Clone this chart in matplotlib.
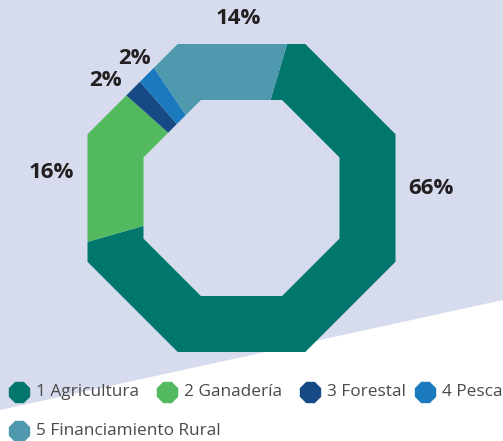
import matplotlib.pyplot as plt
import numpy as np
from matplotlib.patches import Polygon

# data
sectors = ["1 Agricultura", "2 Ganadería", "3 Forestal", "4 Pesca", "5 Financiamiento Rural"]
shares = [66, 16, 2, 2, 14]
colors = ["#00766c", "#52b95e", "#174a84", "#1b79be", "#4e99ad"]

W, H = 503, 441
BG = "#d6dbed"
fig = plt.figure(figsize=(W / 100, H / 100), dpi=100)
ax = fig.add_axes([0, 0, 1, 1])

# background: lavender with a white wedge along the bottom
ax.add_patch(Polygon([(0, 0), (W, 0), (W, H), (0, H)], closed=True, fc=BG, ec="none", zorder=0))
ax.add_patch(Polygon([(0, 0), (W, 0), (W, H - 300), (0, H - 410)], closed=True, fc="white", ec="none", zorder=0))

cx, cy = 241.5, H - 198
r_out, r_in = 154, 98


def octagon(apothem):
    ang = np.deg2rad(22.5 + 45 * np.arange(8))
    rr = apothem / np.cos(np.deg2rad(22.5))
    return [(cx + rr * np.cos(a), cy + rr * np.sin(a)) for a in ang]


wedges, _ = ax.pie(shares, colors=colors, startangle=73.5, counterclock=False,
                   radius=220, center=(cx, cy), wedgeprops=dict(linewidth=0))

# clip the pie to an octagon and punch an octagonal hole
outer = Polygon(octagon(r_out), closed=True, fc="none", ec="none")
ax.add_patch(outer)
for w in wedges:
    w.set_clip_on(True)
    w.set_clip_path(outer)
ax.add_patch(Polygon(octagon(r_in), closed=True, fc=BG, ec="none", zorder=3))

ax.set_xlim(0, W)
ax.set_ylim(0, H)
ax.set_aspect("auto")
ax.axis("off")

# percentage labels
label_pos = [(431, 189), (51, 172), (105, 81), (134, 58), (238, 18)]
for v, (x, y) in zip(shares, label_pos):
    ax.text(x, H - y, f"{v}%", ha="center", va="center", fontsize=16,
            fontweight="bold", color="#231f20", family="Open Sans")

# legend
leg_pos = [(19, 392), (167, 392), (310, 392), (425, 392), (19, 431)]
for name, c, (x, y) in zip(sectors, colors, leg_pos):
    ax.plot(x, H - y, marker="8", markersize=15, color=c, linestyle="none", clip_on=False)
    ax.text(x + 17, H - y, name, ha="left", va="center", fontsize=12.4,
            color="#4a4a4a", family="Open Sans")

fig.savefig("out.png", dpi=100)
